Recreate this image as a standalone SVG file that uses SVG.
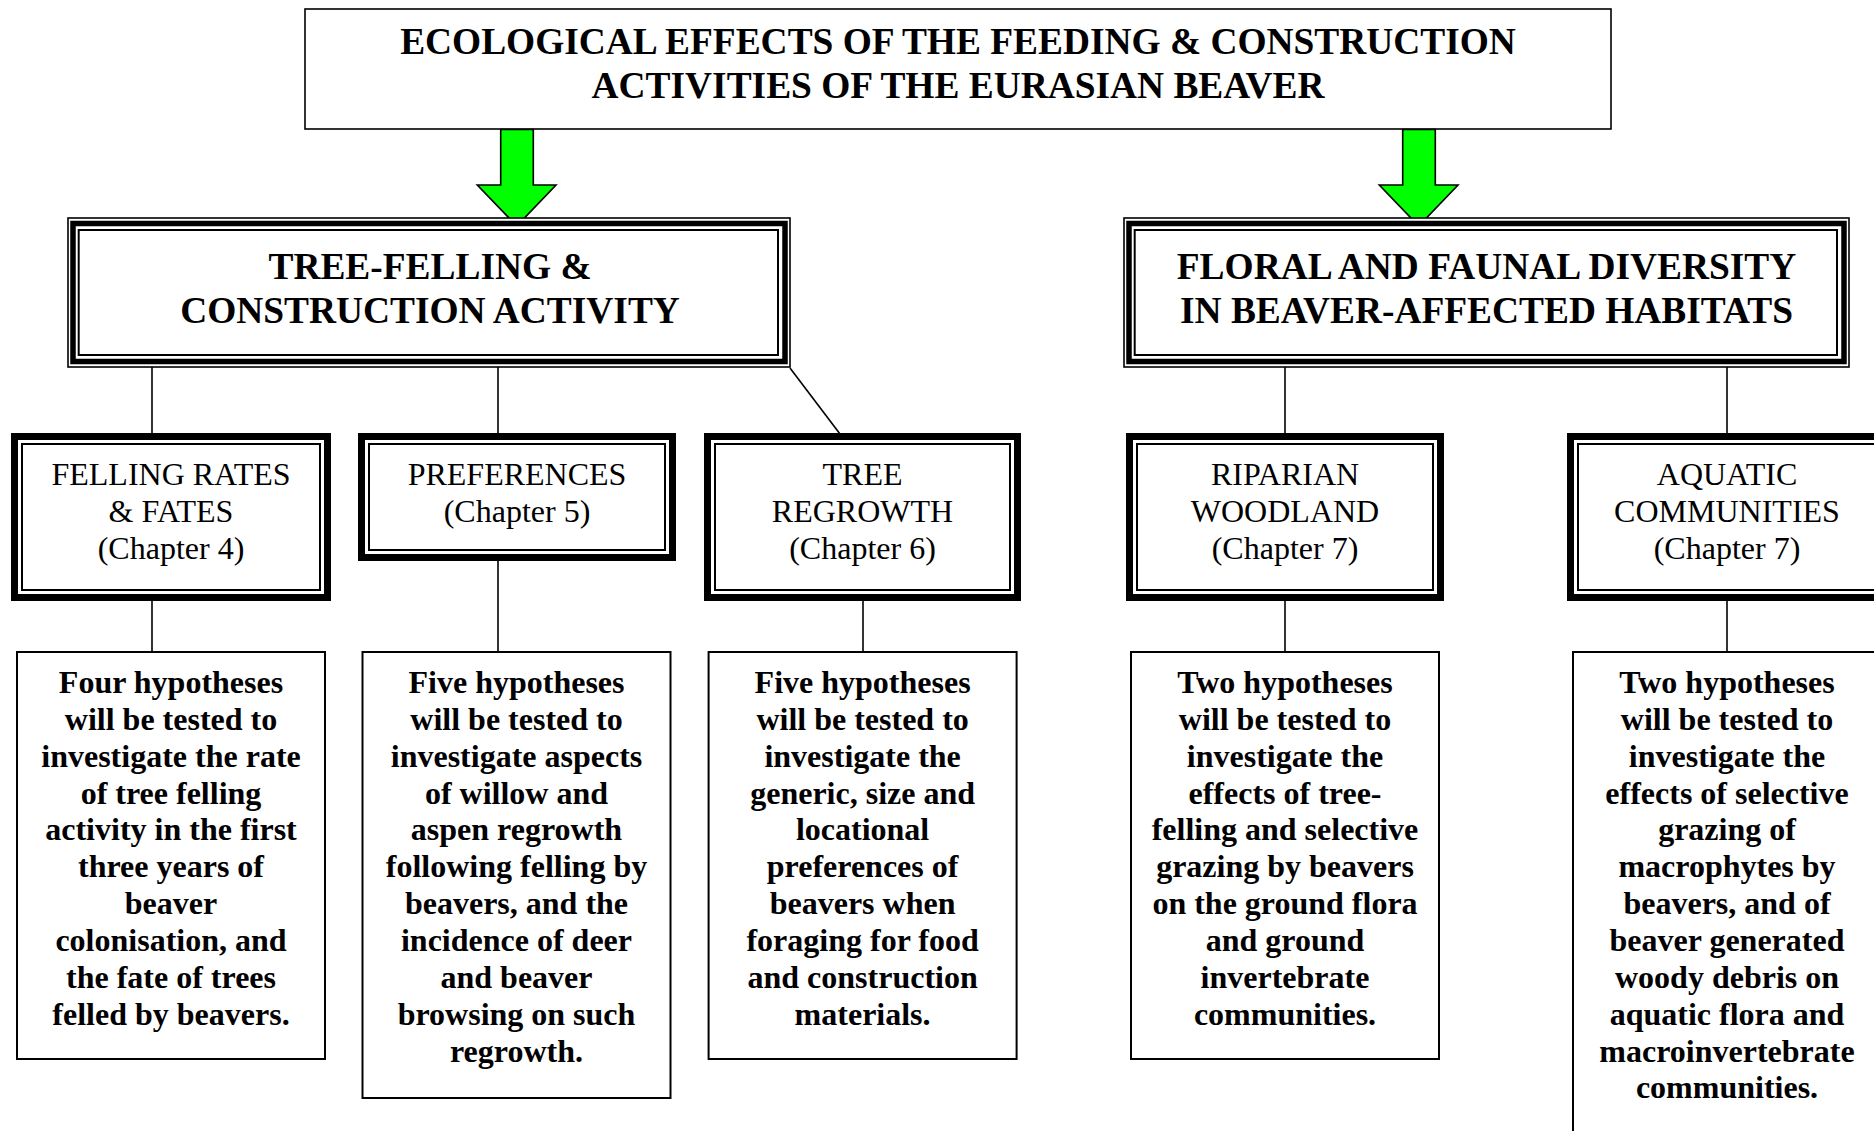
<svg xmlns="http://www.w3.org/2000/svg" width="1874" height="1131" viewBox="0 0 1874 1131">
<style>
  text { font-family: "Liberation Serif", "Times New Roman", serif; fill: #000; text-anchor: middle; }
  .t1 { font-size: 37.4px; font-weight: bold; }
  .t2 { font-size: 32px; font-weight: normal; }
  .t3 { font-size: 32px; font-weight: bold; }
  .thin { fill: #fff; stroke: #000; stroke-width: 1.6; }
  .thk { fill: none; stroke: #000; stroke-width: 5.5; }
  .thk7 { fill: none; stroke: #000; stroke-width: 7; }
  .in2 { fill: none; stroke: #000; stroke-width: 2; }
  .box3 { fill: #fff; stroke: #000; stroke-width: 2; }
  .conn { stroke: #000; stroke-width: 1.6; fill: none; }
  .arrow { fill: #00ff00; stroke: #000; stroke-width: 1.6; stroke-linejoin: miter; }
</style>
<rect width="1874" height="1131" fill="#fff"/>

<g id="title">
  <rect class="thin" x="305" y="9" width="1306" height="120"/>
  <text class="t1" x="958" y="54">ECOLOGICAL EFFECTS OF THE FEEDING &amp; CONSTRUCTION</text>
  <text class="t1" x="958" y="98">ACTIVITIES OF THE EURASIAN BEAVER</text>
</g>

<g id="connectors">
  <polygon class="arrow" points="500.7,129.5 533.3,129.5 533.3,185 556,185 516.7,226 477.3,185 500.7,185"/>
  <polygon class="arrow" points="1402.7,129.5 1435.3,129.5 1435.3,185 1458,185 1418.7,226 1379.3,185 1402.7,185"/>
  <line class="conn" x1="152" y1="367" x2="152" y2="433"/>
  <line class="conn" x1="498" y1="367" x2="498" y2="433"/>
  <line class="conn" x1="790" y1="368" x2="840" y2="434"/>
  <line class="conn" x1="1285" y1="367" x2="1285" y2="433"/>
  <line class="conn" x1="1727" y1="367" x2="1727" y2="433"/>
  <line class="conn" x1="152" y1="601" x2="152" y2="652"/>
  <line class="conn" x1="498" y1="561" x2="498" y2="652"/>
  <line class="conn" x1="863" y1="601" x2="863" y2="652"/>
  <line class="conn" x1="1285" y1="601" x2="1285" y2="652"/>
  <line class="conn" x1="1727" y1="601" x2="1727" y2="652"/>
</g>

<g id="tree-felling">
  <rect class="thin" x="68" y="218" width="722" height="149"/>
  <rect class="thk" x="73" y="223.5" width="712" height="138"/>
  <rect class="in2" x="78.7" y="230" width="699.3" height="125"/>
  <text class="t1" x="430" y="278.5">TREE-FELLING &amp;</text>
  <text class="t1" x="430" y="322.5">CONSTRUCTION ACTIVITY</text>
</g>

<g id="floral-faunal">
  <rect class="thin" x="1124" y="218" width="725" height="149"/>
  <rect class="thk" x="1129" y="223.5" width="715" height="138"/>
  <rect class="in2" x="1134.7" y="230" width="702.3" height="125"/>
  <text class="t1" x="1486.5" y="278.5">FLORAL AND FAUNAL DIVERSITY</text>
  <text class="t1" x="1486.5" y="322.5">IN BEAVER-AFFECTED HABITATS</text>
</g>

<g id="felling-rates">
  <rect x="11" y="433" width="320" height="168" fill="#fff"/>
  <rect class="thk7" x="14.5" y="436.5" width="313" height="161"/>
  <rect class="in2" x="22" y="444" width="298" height="146"/>
  <text class="t2" x="171" y="485">FELLING RATES</text>
  <text class="t2" x="171" y="522">&amp; FATES</text>
  <text class="t2" x="171" y="559">(Chapter 4)</text>
</g>

<g id="preferences">
  <rect x="358" y="433" width="318" height="128" fill="#fff"/>
  <rect class="thk7" x="361.5" y="436.5" width="311" height="121"/>
  <rect class="in2" x="369" y="444" width="296" height="106"/>
  <text class="t2" x="517" y="485">PREFERENCES</text>
  <text class="t2" x="517" y="522">(Chapter 5)</text>
</g>

<g id="tree-regrowth">
  <rect x="704" y="433" width="317" height="168" fill="#fff"/>
  <rect class="thk7" x="707.5" y="436.5" width="310" height="161"/>
  <rect class="in2" x="715" y="444" width="295" height="146"/>
  <text class="t2" x="862.5" y="485">TREE</text>
  <text class="t2" x="862.5" y="522">REGROWTH</text>
  <text class="t2" x="862.5" y="559">(Chapter 6)</text>
</g>

<g id="riparian-woodland">
  <rect x="1126" y="433" width="318" height="168" fill="#fff"/>
  <rect class="thk7" x="1129.5" y="436.5" width="311" height="161"/>
  <rect class="in2" x="1137" y="444" width="296" height="146"/>
  <text class="t2" x="1285" y="485">RIPARIAN</text>
  <text class="t2" x="1285" y="522">WOODLAND</text>
  <text class="t2" x="1285" y="559">(Chapter 7)</text>
</g>

<g id="aquatic-communities">
  <rect x="1567" y="433" width="320" height="168" fill="#fff"/>
  <rect class="thk7" x="1570.5" y="436.5" width="313" height="161"/>
  <rect class="in2" x="1578" y="444" width="298" height="146"/>
  <text class="t2" x="1727" y="485">AQUATIC</text>
  <text class="t2" x="1727" y="522">COMMUNITIES</text>
  <text class="t2" x="1727" y="559">(Chapter 7)</text>
</g>

<g id="hyp-felling">
  <rect class="box3" x="17" y="652" width="308" height="407"/>
  <text class="t3" x="171" y="693">Four hypotheses</text>
  <text class="t3" x="171" y="729.85">will be tested to</text>
  <text class="t3" x="171" y="766.7">investigate the rate</text>
  <text class="t3" x="171" y="803.55">of tree felling</text>
  <text class="t3" x="171" y="840.4">activity in the first</text>
  <text class="t3" x="171" y="877.25">three years of</text>
  <text class="t3" x="171" y="914.1">beaver</text>
  <text class="t3" x="171" y="950.95">colonisation, and</text>
  <text class="t3" x="171" y="987.8">the fate of trees</text>
  <text class="t3" x="171" y="1024.65">felled by beavers.</text>
</g>

<g id="hyp-preferences">
  <rect class="box3" x="362.5" y="652" width="308" height="446"/>
  <text class="t3" x="516.5" y="693">Five hypotheses</text>
  <text class="t3" x="516.5" y="729.85">will be tested to</text>
  <text class="t3" x="516.5" y="766.7">investigate aspects</text>
  <text class="t3" x="516.5" y="803.55">of willow and</text>
  <text class="t3" x="516.5" y="840.4">aspen regrowth</text>
  <text class="t3" x="516.5" y="877.25">following felling by</text>
  <text class="t3" x="516.5" y="914.1">beavers, and the</text>
  <text class="t3" x="516.5" y="950.95">incidence of deer</text>
  <text class="t3" x="516.5" y="987.8">and beaver</text>
  <text class="t3" x="516.5" y="1024.65">browsing on such</text>
  <text class="t3" x="516.5" y="1061.5">regrowth.</text>
</g>

<g id="hyp-regrowth">
  <rect class="box3" x="708.6" y="652" width="308" height="407"/>
  <text class="t3" x="862.6" y="693">Five hypotheses</text>
  <text class="t3" x="862.6" y="729.85">will be tested to</text>
  <text class="t3" x="862.6" y="766.7">investigate the</text>
  <text class="t3" x="862.6" y="803.55">generic, size and</text>
  <text class="t3" x="862.6" y="840.4">locational</text>
  <text class="t3" x="862.6" y="877.25">preferences of</text>
  <text class="t3" x="862.6" y="914.1">beavers when</text>
  <text class="t3" x="862.6" y="950.95">foraging for food</text>
  <text class="t3" x="862.6" y="987.8">and construction</text>
  <text class="t3" x="862.6" y="1024.65">materials.</text>
</g>

<g id="hyp-riparian">
  <rect class="box3" x="1131" y="652" width="308" height="407"/>
  <text class="t3" x="1285" y="693">Two hypotheses</text>
  <text class="t3" x="1285" y="729.85">will be tested to</text>
  <text class="t3" x="1285" y="766.7">investigate the</text>
  <text class="t3" x="1285" y="803.55">effects of tree-</text>
  <text class="t3" x="1285" y="840.4">felling and selective</text>
  <text class="t3" x="1285" y="877.25">grazing by beavers</text>
  <text class="t3" x="1285" y="914.1">on the ground flora</text>
  <text class="t3" x="1285" y="950.95">and ground</text>
  <text class="t3" x="1285" y="987.8">invertebrate</text>
  <text class="t3" x="1285" y="1024.65">communities.</text>
</g>

<g id="hyp-aquatic">
  <rect class="box3" x="1573" y="652" width="308" height="500"/>
  <text class="t3" x="1727" y="693">Two hypotheses</text>
  <text class="t3" x="1727" y="729.85">will be tested to</text>
  <text class="t3" x="1727" y="766.7">investigate the</text>
  <text class="t3" x="1727" y="803.55">effects of selective</text>
  <text class="t3" x="1727" y="840.4">grazing of</text>
  <text class="t3" x="1727" y="877.25">macrophytes by</text>
  <text class="t3" x="1727" y="914.1">beavers, and of</text>
  <text class="t3" x="1727" y="950.95">beaver generated</text>
  <text class="t3" x="1727" y="987.8">woody debris on</text>
  <text class="t3" x="1727" y="1024.65">aquatic flora and</text>
  <text class="t3" x="1727" y="1061.5">macroinvertebrate</text>
  <text class="t3" x="1727" y="1098.35">communities.</text>
</g>
</svg>
